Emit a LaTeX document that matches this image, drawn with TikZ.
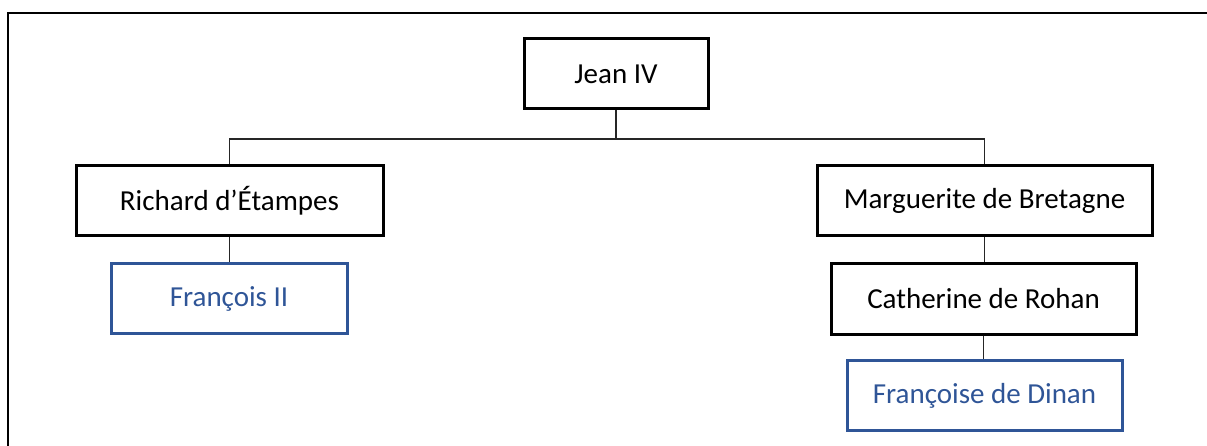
\documentclass[tikz,border=0pt]{standalone}
\usepackage{fontspec}
\setmainfont{Carlito}
\usepackage{tikz}
\definecolor{wordblue}{HTML}{2F5597}

\begin{document}
\begin{tikzpicture}[x=1pt, y=-1pt,
        person/.style={draw=black, line width=3pt, minimum height=70pt,
            font=\fontsize{29}{34}\selectfont},
        heir/.style={person, draw=wordblue, text=wordblue},
        link/.style={line width=1.3pt, draw=black!85}
    ]
        \def\frameleft{8}
        \def\frametop{13}
        \def\forky{139}

        % fix page size
        \useasboundingbox (0, 0) rectangle (1207, 446);

        % open frame, top and left side only
        \draw [line width=2.8pt] (\frameleft, 446) -- (\frameleft, \frametop) -- (1207, \frametop);

        \node [person, minimum width=184pt] (jean) at (616, 74) {Jean IV};
        \node [person, minimum width=307pt] (richard) at (229.5, 200.5) {Richard d’Étampes};
        \node [heir, minimum width=236pt] (francois) at (229, 298.5) {François II};
        \node [person, minimum width=335pt] (marguerite) at (984.5, 201) {Marguerite de Bretagne};
        \node [person, minimum width=305pt] (catherine) at (983.5, 299) {Catherine de Rohan};
        \node [heir, minimum width=275pt] (dinan) at (984.5, 395.5) {Françoise de Dinan};

        \coordinate (fork) at (jean.south |- 0, \forky);

        \draw [link] (jean.south) -- (fork);
        \draw [link] (richard.north) |- (fork) -| (marguerite.north);
        \draw [link] (richard.south) -- (richard.south |- francois.north);
        \draw [link] (marguerite.south) -- (marguerite.south |- catherine.north);
        \draw [link] (catherine.south) -- (catherine.south |- dinan.north);
    \end{tikzpicture}
\end{document}
